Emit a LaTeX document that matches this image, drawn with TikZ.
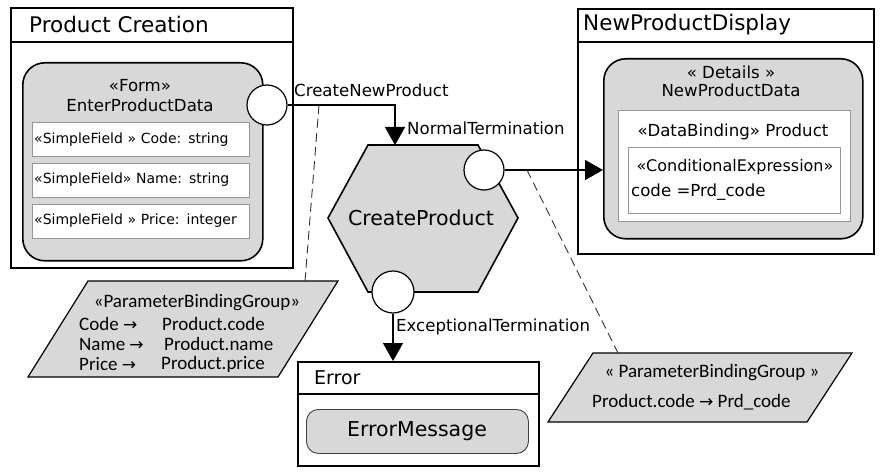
\documentclass[tikz,border=0pt]{standalone}
\usepackage{fontspec}
\setmainfont{DejaVu Sans}
\newfontfamily\bindfont{Carlito}
\usetikzlibrary{arrows.meta,positioning,calc}
\definecolor{umlgray}{RGB}{216,216,216}
\definecolor{fieldgray}{RGB}{150,150,150}
\newcommand{\setfs}[1]{\fontsize{#1}{#1}\selectfont}
\newcommand{\bindarrow}{{\rmfamily\setfs{17}→}}

\begin{document}
\begin{tikzpicture}[x=1pt,y=-1pt,
  container/.style={draw,line width=1.6pt,anchor=north west,inner sep=0pt},
  ctitle/.style={anchor=west,inner sep=0pt,font=\setfs{21.5}},
  uiform/.style={draw,line width=1.6pt,fill=umlgray,anchor=north west,inner sep=0pt},
  field/.style={draw=fieldgray,fill=white,anchor=north west,text width=213pt,inner xsep=2pt,inner ysep=0pt,minimum height=34pt,align=left,font=\setfs{14}},
  txt/.style={inner sep=0pt,font=\setfs{16.6}},
  pin/.style={circle,draw,fill=white,line width=1.2pt,minimum size=40pt,inner sep=0pt},
  flow/.style={-{Triangle[length=18pt,width=20pt]},line width=1.5pt},
  bind/.style={draw=black!80,line width=0.9pt,dash pattern=on 9pt off 5pt},
  paramgroup/.style={draw,line width=1.2pt,fill=umlgray},
  bindtext/.style={inner sep=0pt,font=\bindfont\setfs{19}}
]
\useasboundingbox (0,0) rectangle (881,473);

% Product Creation
\node[container,minimum width=282pt,minimum height=260pt] (creation) at (10,7) {};
\draw[line width=1.6pt] ($(creation.north west)+(0,35)$) -- ($(creation.north east)+(0,35)$);
\node[ctitle] (creationtitle) at (29,24) {Product Creation};
\node[uiform,rounded corners=22pt,minimum width=240pt,minimum height=198pt] (form) at (22,62) {};
\node[txt] (formstereo) at (140,86) {«Form»};
\node[txt] (formname) at (140,105) {EnterProductData};
\node[field] (codefield) at (32,122) {«SimpleField » Code: string};
\node[field,below=6.5pt of codefield] (namefield) {«SimpleField» Name: string};
\node[field,below=6.5pt of namefield] (pricefield) {«SimpleField » Price: integer};

% NewProductDisplay
\node[container,minimum width=296pt,minimum height=245pt] (display) at (577,8) {};
\draw[line width=1.6pt] ($(display.north west)+(0,34)$) -- ($(display.north east)+(0,34)$);
\node[ctitle] (displaytitle) at (583,25) {NewProductDisplay};
\node[uiform,rounded corners=22pt,minimum width=259pt,minimum height=180pt] (details) at (603,58) {};
\node[txt] (detailsstereo) at (731,72) {« Details »};
\node[txt] (detailsname) at (731,90) {NewProductData};
\node[uiform,draw=fieldgray,line width=0.8pt,fill=white,rounded corners=0pt,minimum width=232pt,minimum height=111pt] (binding) at (618,110) {};
\node[txt] (bindingname) at (733,132) {«DataBinding» Product};
\node[uiform,draw=fieldgray,line width=0.8pt,fill=white,rounded corners=0pt,minimum width=212pt,minimum height=66pt] (condition) at (628,147) {};
\node[txt,font=\setfs{16}] (conditionstereo) at (735,167) {«ConditionalExpression»};
\node[txt,anchor=west] (conditionexpr) at (631,192) {code =Prd\_code};

% Error
\node[container,minimum width=241pt,minimum height=104pt] (error) at (297,361) {};
\draw[line width=1.6pt] ($(error.north west)+(0,33)$) -- ($(error.north east)+(0,33)$);
\node[ctitle,font=\setfs{19}] (errortitle) at (314,378) {Error};
\node[uiform,draw=black!75,line width=0.9pt,rounded corners=12pt,minimum width=222pt,minimum height=44pt] (errormsg) at (306,409) {};
\node[txt,font=\setfs{20.5}] (errortext) at (417,431) {ErrorMessage};

% CreateProduct
\draw[line width=1.6pt,fill=umlgray] (368,145) -- (478,145) -- (518,218) -- (478,292) -- (368,292) -- (328,218) -- cycle;
\node[txt,font=\setfs{20.5}] (createproduct) at (421,218) {CreateProduct};
\coordinate (createtop) at (395,145);

% parameter binding groups
\draw[paramgroup] (28,377) -- (88,281) -- (338,281) -- (278,377) -- cycle;
\node[bindtext] (leftstereo) at (197,303) {«ParameterBindingGroup»};
\node[bindtext,anchor=west] (codesrc) at (79,324) {Code \bindarrow};
\node[bindtext,anchor=west] (namesrc) at (79,344) {Name \bindarrow};
\node[bindtext,anchor=west] (pricesrc) at (79,364) {Price \bindarrow};
\node[bindtext,anchor=west] (codedst) at (162,324) {Product.code};
\node[bindtext,anchor=west] (namedst) at (164,344) {Product.name};
\node[bindtext,anchor=west] (pricedst) at (161,364) {Product.price};
\coordinate (leftgroup) at (305,281);

\draw[paramgroup] (548,422) -- (593,353) -- (852,353) -- (807,422) -- cycle;
\node[bindtext] (rightstereo) at (712,373) {« ParameterBindingGroup »};
\node[bindtext,anchor=west] (prdbind) at (592,402) {Product.code \bindarrow{} Prd\_code};
\coordinate (rightgroup) at (618,353);

% pins and flows
\node[pin] (formpin) at (267,105) {};
\node[pin] (normalpin) at (484,170) {};
\node[pin,minimum size=42pt] (exceptpin) at (393,292) {};

\draw[flow] (formpin.east) -| (createtop);
\draw[flow] (normalpin.east) -- (normalpin.east -| details.west);
\draw[flow] (exceptpin.south) -- (exceptpin.south |- error.north);
\node[txt,anchor=west] (cnplabel) at (294,90) {CreateNewProduct};
\node[txt,anchor=west] (ntlabel) at (407,128) {NormalTermination};
\node[txt,anchor=west] (etlabel) at (396,327) {ExceptionalTermination};

\coordinate (cnpbind) at (319,105);
\coordinate (ntbind) at (527,170);
\draw[bind] (cnpbind) -- (leftgroup);
\draw[bind] (ntbind) -- (rightgroup);
\end{tikzpicture}
\end{document}
